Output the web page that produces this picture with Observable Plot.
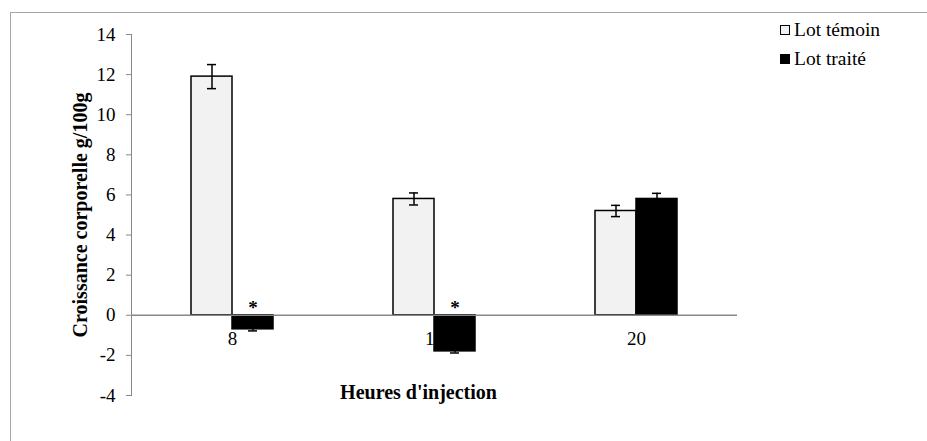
<!DOCTYPE html>
<html>
<head>
<meta charset="utf-8">
<script src="https://cdn.jsdelivr.net/npm/d3@7"></script>
<script src="https://cdn.jsdelivr.net/npm/@observablehq/plot@0.6"></script>
<style>
  body { margin: 0; background: #fff; }
  #wrap { position: relative; width: 927px; height: 441px; overflow: hidden; font-family: "Liberation Serif", "Times New Roman", serif; }
  #frame { position: absolute; left: 10px; top: 12px; width: 960px; height: 460px; border-left: 1px solid #a6a6a6; border-top: 1px solid #a6a6a6; }
  #chart { position: absolute; left: 0; top: 0; }
  #legend { position: absolute; left: 780px; top: 15px; font-size: 19.5px; color: #000; line-height: 1; font-family: "Liberation Serif", "Times New Roman", serif; }
  .row { display: flex; align-items: center; height: 29px; }
  .sw { width: 8px; height: 8px; border: 1px solid #000; margin-right: 4px; }
</style>
</head>
<body>
<div id="wrap">
  <div id="frame"></div>
  <div id="chart"></div>
  <div id="legend"></div>
</div>
<script>
const categories = ["8", "14", "20"];
const series = ["Lot témoin", "Lot traité"];
const seriesColors = ["#f2f2f2", "#000000"];
const temoin = [11.9, 5.8, 5.2];
const temoinErr = [0.6, 0.3, 0.28];
const traite = [-0.7, -1.8, 5.8];
const traiteErr = [0.08, 0.08, 0.28];
const significant = [true, true, false];
const yTicks = [-4, -2, 0, 2, 4, 6, 8, 10, 12, 14];
const yTitle = "Croissance corporelle g/100g";
const xTitle = "Heures d'injection";

const rowsT = categories.map((c, i) => ({cat: c, value: temoin[i], lo: temoin[i] - temoinErr[i], hi: temoin[i] + temoinErr[i]}));
const rowsR = categories.map((c, i) => ({cat: c, value: traite[i], lo: traite[i] - traiteErr[i], hi: traite[i] + traiteErr[i]}));
const stars = categories.filter((c, i) => significant[i]);

const font = "'Liberation Serif', 'Times New Roman', serif";

const plot = Plot.plot({
  width: 927,
  height: 441,
  marginLeft: 131,
  marginRight: 190,
  marginTop: 34,
  marginBottom: 46,
  style: {fontFamily: font, fontSize: "19px", color: "#000", background: "transparent"},
  x: {domain: categories, paddingInner: 0.594, paddingOuter: 0.297, axis: null},
  y: {domain: [-4, 14], axis: null},
  marks: [
    Plot.axisY({ticks: yTicks, tickFormat: d => String(d), tickSize: 5, tickPadding: 11, stroke: "#888", fill: "#000", fontSize: 19, fontFamily: font, label: null}),
    Plot.frame({anchor: "left", stroke: "#888"}),
    Plot.text(categories, {x: d => d, y: () => 0, dy: 24, fontSize: 19, fontFamily: font, fill: "#000"}),
    Plot.barY(rowsT, {x: "cat", y1: () => 0, y2: "value", fill: seriesColors[0], stroke: "#000", strokeWidth: 1.5, insetRight: 41}),
    Plot.barY(rowsR, {x: "cat", y1: () => 0, y2: "value", fill: seriesColors[1], stroke: "#000", strokeWidth: 1.5, insetLeft: 41}),
    Plot.ruleX(rowsT, {x: "cat", y1: "lo", y2: "hi", dx: -20.5, stroke: "#000", strokeWidth: 1.5}),
    Plot.ruleX(rowsR, {x: "cat", y1: "lo", y2: "hi", dx: 20.5, stroke: "#000", strokeWidth: 1.5}),
    Plot.tickY(rowsT, {x: "cat", y: "lo", insetLeft: 16, insetRight: 57, stroke: "#000", strokeWidth: 1.5}),
    Plot.tickY(rowsT, {x: "cat", y: "hi", insetLeft: 16, insetRight: 57, stroke: "#000", strokeWidth: 1.5}),
    Plot.tickY(rowsR, {x: "cat", y: "lo", insetLeft: 57, insetRight: 16, stroke: "#000", strokeWidth: 1.5}),
    Plot.tickY(rowsR, {x: "cat", y: "hi", insetLeft: 57, insetRight: 16, stroke: "#000", strokeWidth: 1.5}),
    Plot.ruleY([0], {stroke: "#888", strokeWidth: 1.5}),
    Plot.text(stars, {x: d => d, y: () => 0, dx: 20.5, dy: -7, text: () => "*", fontSize: 19, fontWeight: "bold", fontFamily: font, fill: "#000"}),
    Plot.text([yTitle], {frameAnchor: "left", textAnchor: "middle", lineAnchor: "middle", dx: -51, rotate: -90, fontSize: 20, fontWeight: "bold", fontFamily: font, fill: "#000"}),
    Plot.text([xTitle], {frameAnchor: "bottom", textAnchor: "middle", lineAnchor: "middle", dx: -16, dy: -3, fontSize: 20, fontWeight: "bold", fontFamily: font, fill: "#000"})
  ]
});
document.getElementById("chart").appendChild(plot);

const legend = document.getElementById("legend");
series.forEach((s, i) => {
  const row = document.createElement("div");
  row.className = "row";
  const sw = document.createElement("span");
  sw.className = "sw";
  sw.style.background = seriesColors[i];
  const t = document.createElement("span");
  t.textContent = s;
  row.appendChild(sw);
  row.appendChild(t);
  legend.appendChild(row);
});
</script>
</body>
</html>
